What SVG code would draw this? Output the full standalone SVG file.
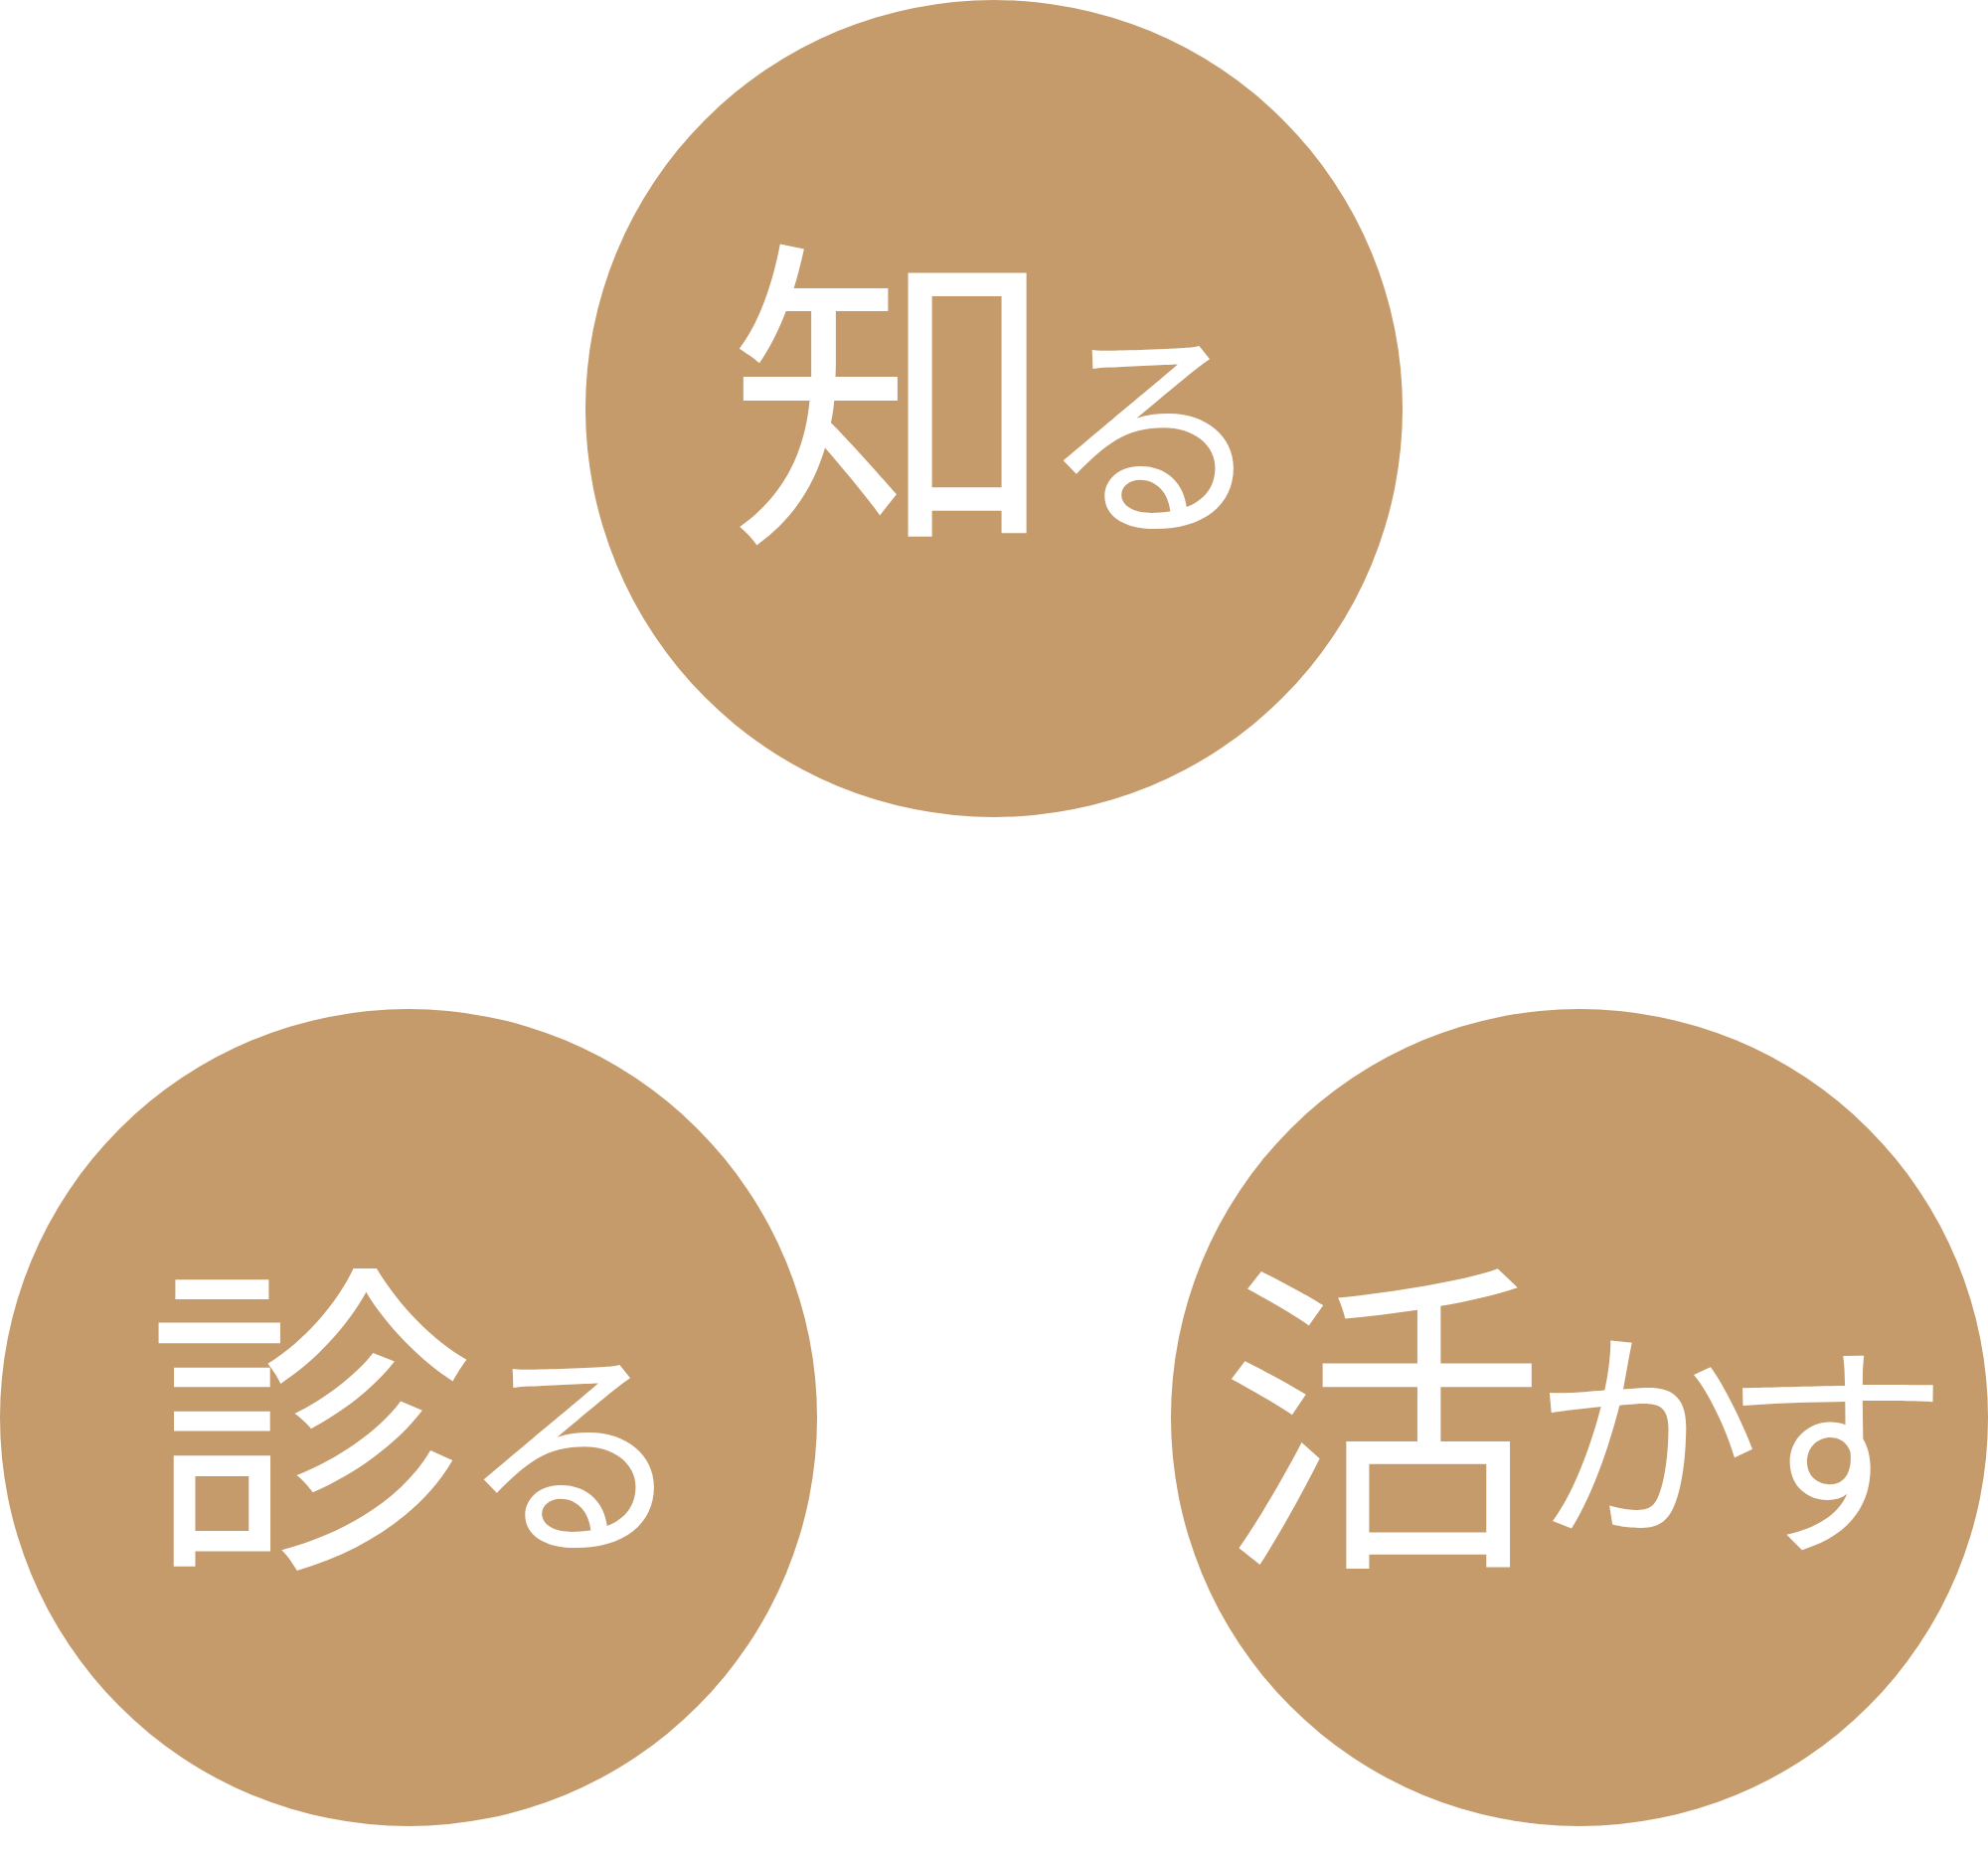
<svg xmlns="http://www.w3.org/2000/svg" width="2000" height="1862" viewBox="0 0 2000 1862">
<style>
.c{fill:#C59B6B}
.t{font-family:"Noto Sans CJK JP","Noto Sans CJK SC",sans-serif;fill:#FFFFFF;text-anchor:middle}
.s{font-family:"Noto Sans CJK JP","Noto Sans CJK SC",sans-serif;fill:#FFFFFF;text-anchor:start}
.k{font-size:330px}
.h{font-size:230px}
</style>
<rect width="2000" height="1862" fill="#FFFFFF"/>
<g id="node-shiru">
<circle class="c" cx="1000" cy="411" r="411"/>
<text class="t"><tspan class="k" x="898" y="523">知</tspan><tspan class="h" x="1159" y="521">る</tspan></text>
</g>
<g id="node-miru">
<circle class="c" cx="411" cy="1426" r="411"/>
<text class="t"><tspan class="k" x="312" y="1553">診</tspan><tspan class="h" x="576" y="1546">る</tspan></text>
</g>
<g id="node-ikasu">
<circle class="c" cx="1589" cy="1426" r="411"/>
<text class="t k" x="1390" y="1552">活</text>
<text class="s h" x="1541" y="1530" letter-spacing="-40">か<tspan dy="16">す</tspan></text>
</g>
<g id="connectors"/>
</svg>
